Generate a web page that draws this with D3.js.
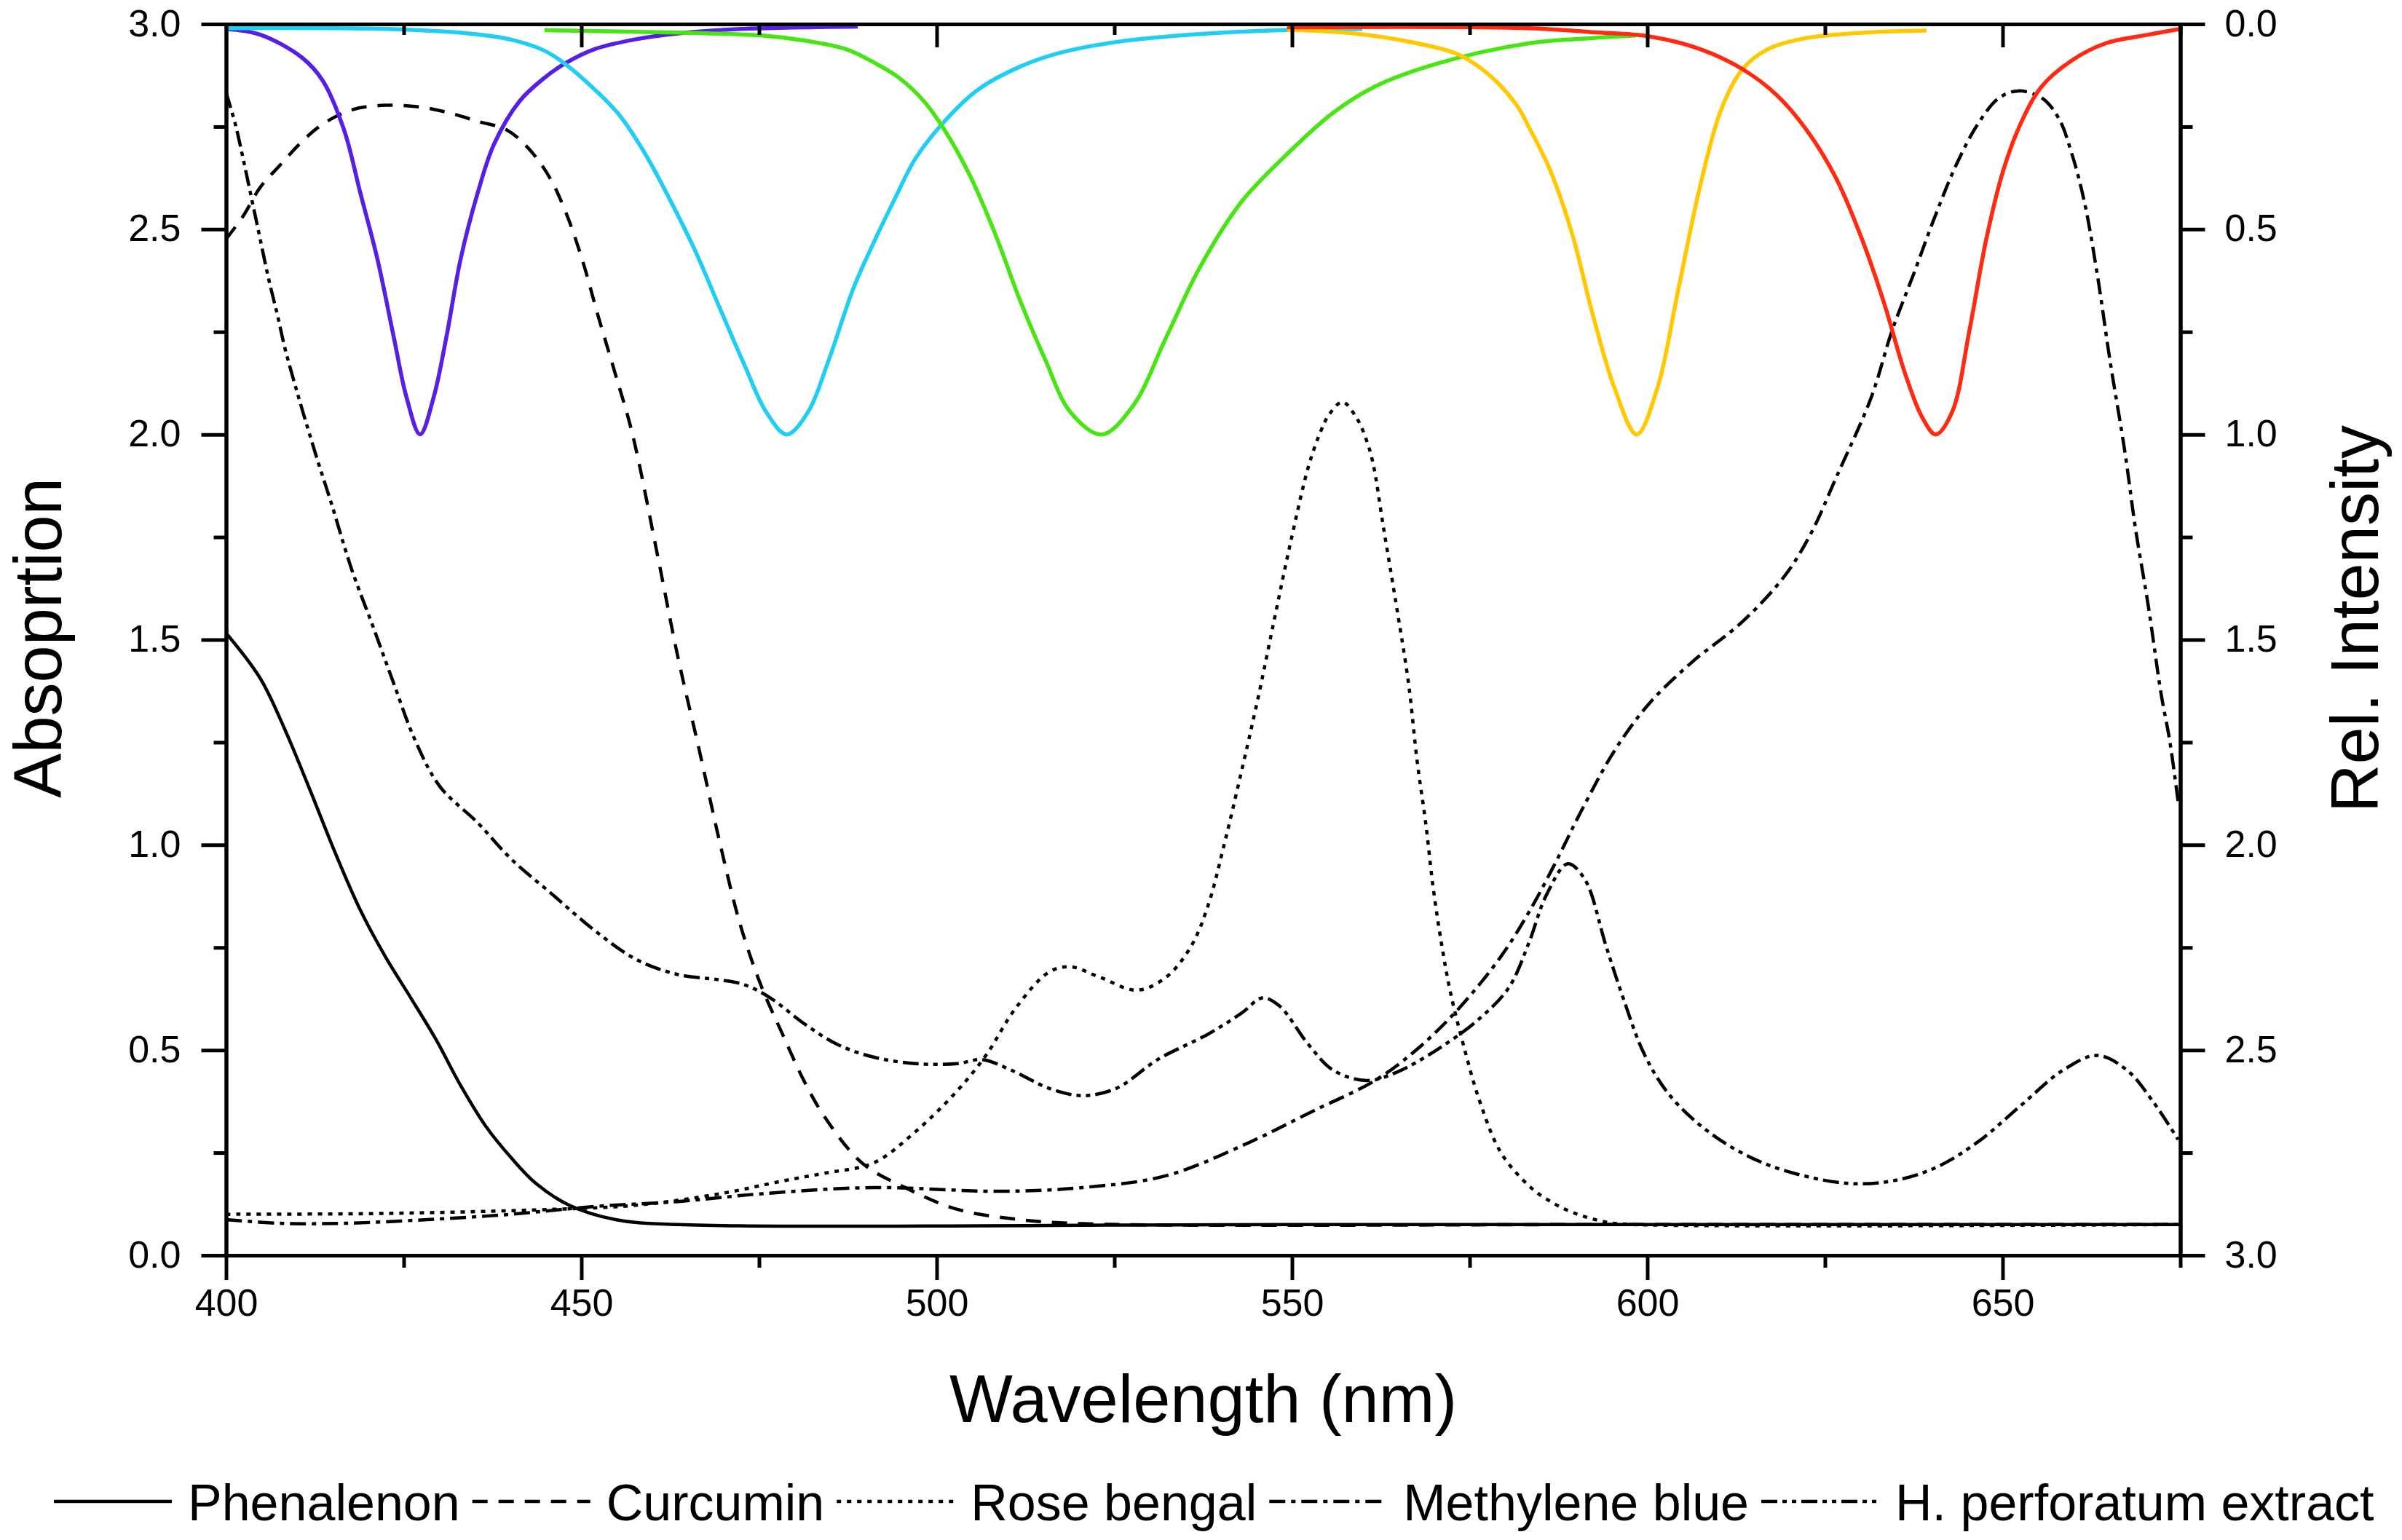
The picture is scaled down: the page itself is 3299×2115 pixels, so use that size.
<!DOCTYPE html>
<html>
<head>
<meta charset="utf-8">
<script src="https://cdn.jsdelivr.net/npm/d3@7"></script>
<style>
  body { margin: 0; background: #fff; }
  svg { display: block; font-family: 'Liberation Sans', Arial, sans-serif; }
</style>
</head>
<body>
<div id="chart"></div>
<script>
// absorption spectra, left axis: [wavelength (nm), absorption]
const phenalenon = [[400,1.516],[404.8,1.406],[408.3,1.28],[411.9,1.13],[415.4,0.979],[418.9,0.841],[422.4,0.728],[426,0.627],[429.5,0.527],[433,0.414],[436.6,0.313],[440.1,0.238],[443.6,0.175],[448.3,0.122],[454.8,0.087],[463.6,0.075],[550,0.075],[675,0.075]]
const curcumin = [[400,2.476],[402.4,2.532],[404.8,2.602],[407.7,2.658],[410.7,2.714],[413.6,2.756],[417.7,2.791],[422.4,2.802],[427.2,2.798],[431.3,2.784],[435.4,2.763],[439.5,2.742],[442.4,2.7],[445.4,2.63],[447.7,2.546],[450.1,2.427],[452.4,2.286],[454.8,2.146],[457.2,2.0],[460.7,1.707],[463.6,1.456],[466.6,1.23],[469.5,1.004],[472.4,0.803],[475.4,0.652],[478.3,0.539],[481.3,0.426],[484.2,0.338],[489.5,0.225],[495.8,0.163],[502.9,0.112],[511.7,0.087],[520.5,0.077],[600,0.075],[675,0.075]]
const roseBengal = [[400,0.1],[422.4,0.102],[446,0.112],[457.7,0.122],[469.5,0.15],[478.3,0.181],[484.2,0.2],[491.1,0.225],[497,0.301],[502.9,0.401],[507,0.489],[511.1,0.602],[515.8,0.69],[518.8,0.703],[522.9,0.678],[528.2,0.646],[532.3,0.678],[535.8,0.753],[538.2,0.853],[540.5,1.004],[542.9,1.18],[545.2,1.356],[547.6,1.557],[549.9,1.745],[552.3,1.921],[554,2.006],[555.2,2.048],[557.1,2.079],[559.1,2.04],[560.5,1.985],[561.4,1.93],[562.9,1.77],[564.7,1.582],[566.4,1.393],[567.6,1.205],[568.8,1.055],[569.9,0.891],[571.1,0.753],[572.3,0.64],[574.1,0.514],[576.4,0.376],[579.4,0.25],[583.3,0.17],[586,0.135],[589.4,0.105],[594.2,0.081],[598,0.075],[675,0.075]]
const methyleneBlue = [[400,0.087],[407.7,0.078],[416.6,0.078],[428.3,0.087],[440.1,0.1],[451.9,0.119],[463.6,0.131],[475.4,0.15],[491.1,0.165],[508.8,0.156],[520.5,0.165],[532.3,0.194],[544.1,0.276],[552.9,0.351],[561.7,0.426],[567.6,0.502],[573.5,0.602],[579.4,0.728],[583.3,0.835],[587,0.954],[590.6,1.079],[595.4,1.23],[600.2,1.343],[606.2,1.444],[613.4,1.544],[619.4,1.657],[623,1.758],[626.6,1.896],[631.5,2.09],[634.4,2.251],[637.5,2.392],[640.5,2.532],[643.5,2.658],[646.5,2.756],[649.5,2.82],[652.2,2.837],[655.5,2.82],[657.9,2.77],[659.7,2.686],[661.5,2.567],[663.3,2.392],[665.1,2.181],[667.2,1.958],[668.7,1.77],[670.5,1.582],[672.3,1.368],[673.5,1.255],[674.7,1.105]]
const hPerforatum = [[400,2.833],[401.3,2.756],[402.4,2.672],[403.6,2.574],[404.8,2.476],[406,2.378],[407.2,2.293],[408.3,2.209],[410.1,2.097],[411.9,1.992],[413,1.93],[414.8,1.833],[417.7,1.67],[420.7,1.531],[423.6,1.393],[426.6,1.255],[430.1,1.142],[435.4,1.054],[440.1,0.966],[446,0.878],[451.9,0.791],[457.7,0.721],[463.6,0.684],[469.5,0.671],[473,0.659],[476.6,0.627],[481.3,0.565],[486,0.514],[491.1,0.483],[497,0.467],[502.9,0.467],[506.4,0.477],[510.5,0.451],[515.8,0.407],[520.5,0.389],[525.3,0.407],[531.1,0.477],[538.2,0.539],[542.9,0.59],[545.8,0.627],[548.2,0.608],[552.3,0.514],[555.8,0.451],[560.5,0.426],[564.6,0.445],[570.5,0.502],[576.4,0.577],[580.5,0.652],[583.3,0.76],[585.8,0.878],[588.8,0.954],[591.2,0.916],[594.2,0.753],[596.6,0.627],[599.6,0.489],[603.2,0.389],[608.6,0.301],[614.6,0.238],[620.6,0.2],[628.4,0.175],[634.4,0.181],[640.5,0.213],[646.5,0.276],[652.5,0.364],[658.5,0.451],[663.3,0.487],[667.5,0.451],[671.1,0.376],[674.7,0.282]]

// LED emission, right axis (inverted): [wavelength (nm), rel. intensity]
const ledViolet = [[400,0.012],[404.8,0.026],[410.7,0.082],[413.6,0.138],[416.6,0.258],[418.9,0.412],[421.3,0.573],[423.6,0.763],[425.4,0.91],[427.3,1.0],[429.2,0.91],[431,0.763],[433,0.573],[435.4,0.412],[437.7,0.293],[441.3,0.188],[444.8,0.131],[447.7,0.096],[451.9,0.061],[457.7,0.037],[463.6,0.023],[472.4,0.012],[488.9,0.006]]
const ledCyan = [[400,0.01],[422.4,0.012],[434.2,0.023],[440.1,0.038],[444.8,0.065],[447.7,0.097],[451.9,0.16],[455.4,0.223],[458.9,0.314],[462.4,0.426],[466,0.552],[469.5,0.693],[473,0.833],[476,0.945],[478.9,1.0],[481.9,0.945],[484.8,0.819],[488.3,0.643],[491.2,0.53],[494.1,0.426],[497,0.328],[501.1,0.237],[505.8,0.16],[511.7,0.104],[517.6,0.069],[526.4,0.041],[538.2,0.023],[549.9,0.014],[559.9,0.012]]
const ledGreen = [[444.8,0.015],[463.6,0.021],[475.4,0.028],[481.3,0.04],[487.2,0.061],[491.1,0.093],[494.7,0.131],[498.2,0.188],[501.1,0.258],[504.7,0.37],[508.2,0.51],[511.7,0.672],[515.3,0.819],[518.8,0.945],[523.2,1.0],[527.6,0.931],[532.3,0.763],[537,0.594],[542.9,0.433],[549.9,0.307],[555.8,0.216],[561.7,0.152],[570.5,0.096],[583.3,0.047],[592.4,0.034],[598.4,0.028]]
const ledYellow = [[549.3,0.014],[558.8,0.023],[567.6,0.047],[573.5,0.075],[578.2,0.131],[581.7,0.2],[583.3,0.25],[586.3,0.355],[589.4,0.51],[592.4,0.713],[595.4,0.888],[598.5,1.0],[601.4,0.888],[604.4,0.643],[607.4,0.397],[610.4,0.208],[613.4,0.11],[617,0.061],[622.4,0.034],[631.5,0.02],[639.3,0.016]]
const ledRed = [[549.3,0.008],[583.3,0.01],[592.4,0.02],[600.2,0.03],[607.4,0.061],[613.4,0.11],[618.2,0.173],[622.4,0.258],[626.6,0.377],[630.2,0.524],[633.3,0.679],[636.3,0.853],[638.7,0.959],[640.6,1.0],[642.9,0.945],[645.3,0.749],[647.7,0.524],[650.1,0.356],[652.5,0.244],[655.5,0.152],[659.7,0.089],[664.5,0.047],[670.5,0.026],[675,0.012]]

const xTicks = [400, 450, 500, 550, 600, 650]
const xMinorTicks = [425, 475, 525, 575, 625, 675]
const yTicks = [0, 0.5, 1, 1.5, 2, 2.5, 3]
const yMinorTicks = [0.25, 0.75, 1.25, 1.75, 2.25, 2.75]

const absorption = [
  { name: 'Phenalenon', values: phenalenon, dash: null },
  { name: 'Curcumin', values: curcumin, dash: '21,15' },
  { name: 'Rose bengal', values: roseBengal, dash: '6,8' },
  { name: 'Methylene blue', values: methyleneBlue, dash: '22,8,6,8' },
  { name: 'H. perforatum extract', values: hPerforatum, dash: '22,7,6,7,6,7' }
]
const leds = [
  { values: ledViolet, color: '#5520e4' },
  { values: ledCyan, color: '#22cdf2' },
  { values: ledGreen, color: '#48e414' },
  { values: ledYellow, color: '#ffc800' },
  { values: ledRed, color: '#ff2a10' }
]

const width = 3299
const height = 2115
const plot = { left: 310.5, right: 2994.5, top: 33, bottom: 1724 }

const svg = d3.select('#chart')
  .append('svg')
  .attr('width', width)
  .attr('height', height)

svg.append('rect').attr('width', width).attr('height', height).attr('fill', '#fff')

const x = d3.scaleLinear().domain([400, 675]).range([plot.left, plot.right])
const yLeft = d3.scaleLinear().domain([0, 3]).range([plot.bottom, plot.top])
const yRight = d3.scaleLinear().domain([0, 3]).range([plot.top, plot.bottom])

const axisStyle = (g) => {
  g.selectAll('path, line').attr('stroke', '#000').attr('stroke-width', 5)
  g.select('.domain').attr('stroke-linecap', 'square')
  g.selectAll('text').attr('fill', '#000').attr('font-size', 52)
    .attr('font-family', "'Liberation Sans', Arial, sans-serif")
}

// curves (black absorption first, LED emission on top)
const smooth = d3.curveCatmullRom.alpha(0.5)
const lineLeft = d3.line().x(d => x(d[0])).y(d => yLeft(d[1])).curve(smooth)
const lineRight = d3.line().x(d => x(d[0])).y(d => yRight(d[1])).curve(smooth)

svg.append('g')
  .selectAll('path')
  .data(absorption)
  .join('path')
  .attr('fill', 'none')
  .attr('stroke', '#000')
  .attr('stroke-width', 4.5)
  .attr('stroke-dasharray', d => d.dash)
  .attr('d', d => lineLeft(d.values))

svg.append('g')
  .selectAll('path')
  .data(leds)
  .join('path')
  .attr('fill', 'none')
  .attr('stroke', d => d.color)
  .attr('stroke-width', 5.5)
  .attr('stroke-linejoin', 'round')
  .attr('d', d => lineRight(d.values))

// bottom axis
svg.append('g')
  .attr('transform', `translate(0,${plot.bottom})`)
  .call(d3.axisBottom(x).tickValues(xMinorTicks).tickSize(17).tickSizeOuter(0).tickFormat(''))
  .call(axisStyle)
svg.append('g')
  .attr('transform', `translate(0,${plot.bottom})`)
  .call(d3.axisBottom(x).tickValues(xTicks).tickSize(34).tickSizeOuter(0).tickFormat(d3.format('d')))
  .call(axisStyle)
  .call(g => g.selectAll('text').attr('y', 83).attr('dy', 0))

// top axis, ticks pointing in
svg.append('g')
  .attr('transform', `translate(0,${plot.top})`)
  .call(d3.axisTop(x).tickValues(xMinorTicks).tickSize(-15).tickSizeOuter(0).tickFormat(''))
  .call(axisStyle)
svg.append('g')
  .attr('transform', `translate(0,${plot.top})`)
  .call(d3.axisTop(x).tickValues(xTicks.slice(1)).tickSize(-32).tickSizeOuter(0).tickFormat(''))
  .call(axisStyle)

// left axis
svg.append('g')
  .attr('transform', `translate(${plot.left},0)`)
  .call(d3.axisLeft(yLeft).tickValues(yMinorTicks).tickSize(17).tickSizeOuter(0).tickFormat(''))
  .call(axisStyle)
svg.append('g')
  .attr('transform', `translate(${plot.left},0)`)
  .call(d3.axisLeft(yLeft).tickValues(yTicks).tickSize(34).tickSizeOuter(0).tickFormat(d3.format('.1f')))
  .call(axisStyle)
  .call(g => g.selectAll('text').attr('x', -62).attr('dy', '0.31em'))

// right axis (inverted)
svg.append('g')
  .attr('transform', `translate(${plot.right},0)`)
  .call(d3.axisRight(yRight).tickValues(yMinorTicks).tickSize(17).tickSizeOuter(0).tickFormat(''))
  .call(axisStyle)
svg.append('g')
  .attr('transform', `translate(${plot.right},0)`)
  .call(d3.axisRight(yRight).tickValues(yTicks).tickSize(34).tickSizeOuter(0).tickFormat(d3.format('.1f')))
  .call(axisStyle)
  .call(g => g.selectAll('text').attr('x', 61).attr('dy', '0.31em'))

// axis titles
svg.append('text')
  .attr('x', (plot.left + plot.right) / 2)
  .attr('y', 1953)
  .attr('text-anchor', 'middle')
  .attr('font-size', 92)
  .text('Wavelength (nm)')

svg.append('text')
  .attr('transform', 'translate(84,876) rotate(-90)')
  .attr('text-anchor', 'middle')
  .attr('font-size', 92)
  .text('Absoprtion')

svg.append('text')
  .attr('transform', 'translate(3266,850) rotate(-90)')
  .attr('text-anchor', 'middle')
  .attr('font-size', 92)
  .text('Rel. Intensity')

// legend along the bottom
const legend = svg.append('g')
let lx = 74
absorption.forEach(s => {
  legend.append('line')
    .attr('x1', lx).attr('x2', lx + 162)
    .attr('y1', 2062).attr('y2', 2062)
    .attr('stroke', '#000')
    .attr('stroke-width', 4.5)
    .attr('stroke-dasharray', s.dash)
  const t = legend.append('text')
    .attr('x', lx + 184)
    .attr('y', 2088)
    .attr('font-size', 70)
    .text(s.name)
  lx += 184 + t.node().getComputedTextLength() + 17
})
</script>
</body>
</html>
